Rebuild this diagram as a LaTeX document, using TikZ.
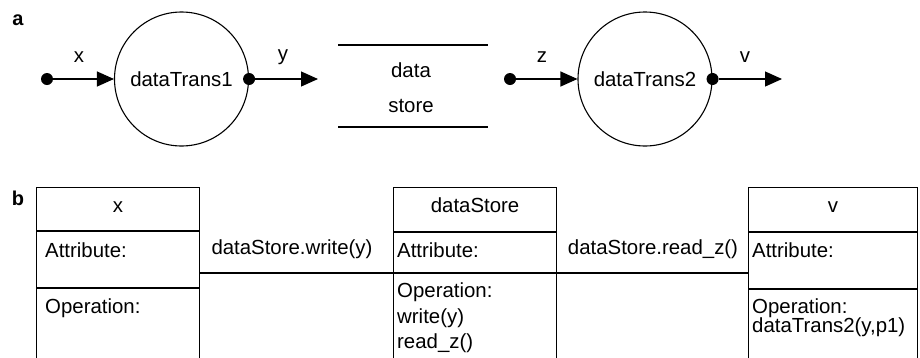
\documentclass[tikz,border=0pt]{standalone}
\usepackage{fontspec}
\setmainfont{Liberation Sans}
\usetikzlibrary{arrows.meta}
\begin{document}
\begin{tikzpicture}[x=1pt,y=-1pt,
  every node/.style={font=\fontsize{20.4}{24}\selectfont},
  ln/.style={line width=1.1pt},
  proc/.style={circle,draw,line width=1.1pt,minimum size=134pt,inner sep=0pt},
  dotn/.style={circle,fill=black,inner sep=0pt,minimum size=12pt},
  flow/.style={line width=1.1pt,-{Triangle[length=17pt,width=15pt]}},
  lbl/.style={inner sep=0pt,anchor=base},
  lblw/.style={inner sep=0pt,anchor=base west},
  bold/.style={inner sep=0pt,anchor=base,font=\bfseries\fontsize{20}{24}\selectfont},
  cls/.style={draw,line width=1.1pt,inner sep=0pt,anchor=north west,minimum height=185pt}]
\clip (0,0) rectangle (920,357);
% ---------- part a ----------
\node[bold] (la) at (18,25) {a};
\node[proc] (t1) at (181.5,79) {dataTrans1};
\node[dotn] (d1) at (47,79) {};
\draw[flow] (d1) -- (t1);
\node[dotn] (d2) at (t1.east) {};
\coordinate (e1) at (318,79);
\draw[flow] (d2) -- (e1);
\node[lbl] (lx) at (79,62) {x};
\node[lbl] (ly) at (283,60) {y};
% data store
\draw[ln] (338,45) -- (488,45);
\draw[ln] (338,127) -- (488,127);
\node[lbl] (dsa) at (411,77) {data};
\node[lbl] (dsb) at (411,112) {store};
% second process
\node[proc] (t2) at (645,79) {dataTrans2};
\node[dotn] (d3) at (510,79) {};
\draw[flow] (d3) -- (t2);
\node[dotn] (d4) at (t2.east) {};
\coordinate (e2) at (782,79);
\draw[flow] (d4) -- (e2);
\node[lbl] (lz) at (542,62) {z};
\node[lbl] (lv) at (745,62) {v};
% ---------- part b ----------
\node[bold] (lb) at (18,205) {b};
% class x
\node[cls,minimum width=163pt] (bx) at (36,187) {};
\draw[ln] (bx.west |- 0,231) -- (bx.east |- 0,231);
\draw[ln] (bx.west |- 0,288) -- (bx.east |- 0,288);
\node[lbl] (bxt) at (bx.north |- 0,212) {x};
\node[lblw] (bxa) at (45,257) {Attribute:};
\node[lblw] (bxo) at (45,313) {Operation:};
% class dataStore
\node[cls,minimum width=163pt] (bds) at (393,187) {};
\draw[ln] (bds.west |- 0,232) -- (bds.east |- 0,232);
\draw[ln] (bds.west |- 0,273) -- (bds.east |- 0,273);
\node[lbl] (bdst) at (bds.north |- 0,212) {dataStore};
\node[lblw] (bdsa) at (397,257) {Attribute:};
\node[lblw] (bdso) at (397,297) {Operation:};
\node[lblw] (bdsw) at (397,323) {write(y)};
\node[lblw] (bdsr) at (397,348) {read\_z()};
% class v
\node[cls,minimum width=169pt] (bv) at (748,187) {};
\draw[ln] (bv.west |- 0,232) -- (bv.east |- 0,232);
\draw[ln] (bv.west |- 0,289) -- (bv.east |- 0,289);
\node[lbl] (bvt) at (bv.north |- 0,212) {v};
\node[lblw] (bva) at (752,257) {Attribute:};
\node[lblw] (bvo) at (752,313) {Operation:};
\node[lblw] (bvd) at (752,332) {dataTrans2(y,p1)};
% associations
\draw[ln] (bx.east |- 0,273) -- (bds.west |- 0,273);
\node[lbl] (w1) at (292,254) {dataStore.write(y)};
\draw[ln] (bds.east |- 0,273) -- (bv.west |- 0,273);
\node[lbl] (r1) at (653,254) {dataStore.read\_z()};
\end{tikzpicture}
\end{document}
